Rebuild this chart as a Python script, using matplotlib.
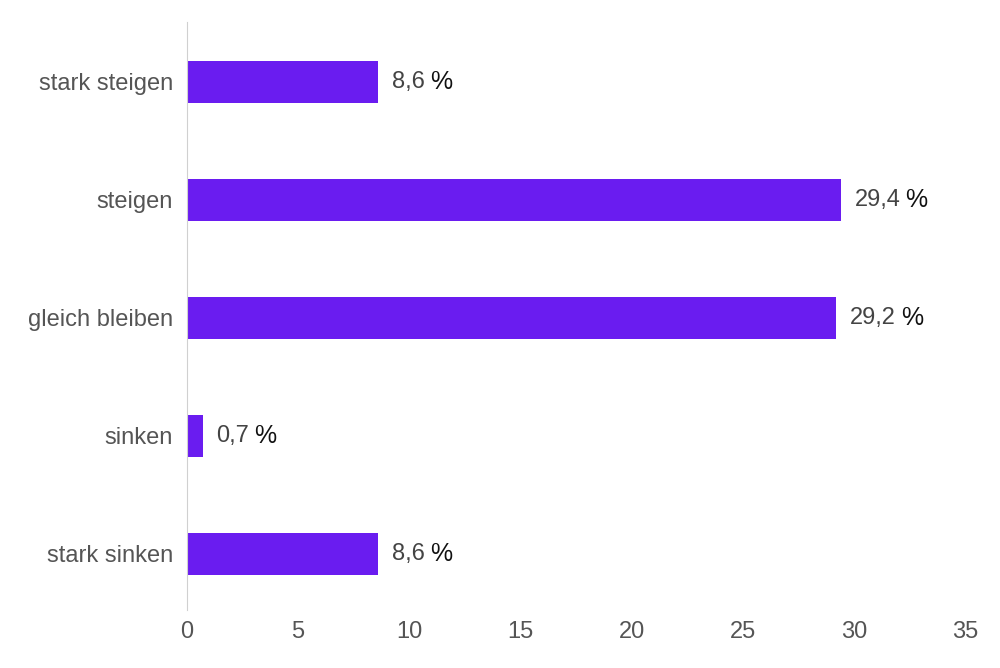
import matplotlib
matplotlib.use("Agg")
import matplotlib.pyplot as plt

categories = ["stark steigen", "steigen", "gleich bleiben", "sinken", "stark sinken"]
values = [8.6, 29.4, 29.2, 0.7, 8.6]
xticks = [0, 5, 10, 15, 20, 25, 30, 35]

plt.rcParams['font.family'] = ['Liberation Sans', 'DejaVu Sans']
fig = plt.figure(figsize=(10, 6.68), dpi=100)
ax = fig.add_axes([0.187, 0.087, 0.778, 0.88])
y = list(range(len(categories)))
ax.barh(y, values, height=0.36, color="#6A1CF0")
ax.set_xlim(0, 35)
ax.set_ylim(4.475, -0.508)
ax.set_yticks(y)
ax.set_yticklabels(categories)
ax.set_xticks(xticks)
ax.tick_params(axis='both', length=0, labelsize=17, colors="#555555", pad=10)
ax.tick_params(axis='x', pad=8)
for s in ["top", "right", "bottom"]:
    ax.spines[s].set_visible(False)
ax.spines["left"].set_color("#d0d0d0")

fig.canvas.draw()
r = fig.canvas.get_renderer()
for yi, v in zip(y, values):
    t = ax.annotate(f"{v:.1f}".replace(".", ","), (v, yi), xytext=(10, 0),
                    textcoords="offset points", va="center", ha="left",
                    fontsize=17, color="#444444")
    bb = t.get_window_extent(r)
    ax.annotate("%", (bb.x1 + 5, (bb.y0 + bb.y1) / 2), xycoords="figure pixels",
                va="center", ha="left", fontsize=18, color="#111111")
fig.savefig("out.png", dpi=100)
